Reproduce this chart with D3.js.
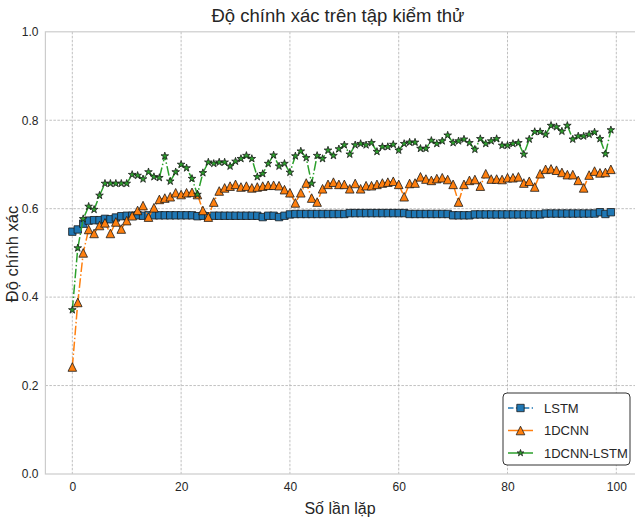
<!DOCTYPE html>
<html>
<head>
<meta charset="utf-8">
<script src="https://cdn.jsdelivr.net/npm/d3@7"></script>
<style>
  html, body { margin: 0; padding: 0; background: #fff; }
  svg { display: block; font-family: "Liberation Sans", Arial, sans-serif; }
</style>
</head>
<body>
<svg id="chart" width="635" height="519"></svg>
<script>
const epochs = d3.range(100);
const lstm = [
  0.548, 0.553, 0.566, 0.573, 0.574, 0.574, 0.577, 0.576, 0.580, 0.583,
  0.584, 0.584, 0.585, 0.584, 0.585, 0.585, 0.585, 0.585, 0.585, 0.585,
  0.585, 0.585, 0.585, 0.583, 0.584, 0.583, 0.584, 0.584, 0.584, 0.584,
  0.584, 0.584, 0.584, 0.584, 0.584, 0.581, 0.584, 0.584, 0.581, 0.584,
  0.587, 0.588, 0.588, 0.588, 0.588, 0.588, 0.588, 0.588, 0.588, 0.588,
  0.588, 0.590, 0.590, 0.590, 0.590, 0.590, 0.590, 0.590, 0.590, 0.590,
  0.590, 0.590, 0.588, 0.588, 0.588, 0.588, 0.588, 0.588, 0.588, 0.588,
  0.585, 0.585, 0.585, 0.585, 0.587, 0.587, 0.587, 0.587, 0.587, 0.587,
  0.587, 0.587, 0.587, 0.587, 0.587, 0.587, 0.587, 0.589, 0.589, 0.589,
  0.589, 0.589, 0.589, 0.589, 0.589, 0.589, 0.589, 0.592, 0.588, 0.592
];
const cnn = [
  0.242, 0.388, 0.500, 0.553, 0.544, 0.562, 0.568, 0.544, 0.570, 0.554,
  0.573, 0.584, 0.596, 0.607, 0.581, 0.602, 0.621, 0.624, 0.627, 0.636,
  0.632, 0.636, 0.637, 0.632, 0.596, 0.581, 0.615, 0.640, 0.647, 0.651,
  0.655, 0.649, 0.651, 0.647, 0.649, 0.651, 0.653, 0.653, 0.652, 0.643,
  0.636, 0.613, 0.636, 0.658, 0.624, 0.615, 0.645, 0.655, 0.660, 0.655,
  0.655, 0.645, 0.657, 0.645, 0.652, 0.652, 0.655, 0.658, 0.660, 0.662,
  0.655, 0.627, 0.657, 0.658, 0.672, 0.667, 0.664, 0.668, 0.670, 0.666,
  0.655, 0.615, 0.655, 0.664, 0.666, 0.651, 0.679, 0.667, 0.667, 0.666,
  0.670, 0.670, 0.672, 0.658, 0.662, 0.649, 0.679, 0.689, 0.690, 0.687,
  0.682, 0.677, 0.677, 0.664, 0.647, 0.676, 0.685, 0.681, 0.682, 0.689
];
const cnnLstm = [
  0.371, 0.511, 0.577, 0.605, 0.598, 0.630, 0.657, 0.657, 0.657, 0.657,
  0.657, 0.677, 0.675, 0.667, 0.683, 0.672, 0.670, 0.719, 0.662, 0.683,
  0.700, 0.692, 0.668, 0.632, 0.681, 0.705, 0.702, 0.705, 0.705, 0.696,
  0.707, 0.713, 0.720, 0.713, 0.672, 0.679, 0.702, 0.721, 0.696, 0.702,
  0.682, 0.719, 0.730, 0.715, 0.657, 0.720, 0.713, 0.732, 0.720, 0.735,
  0.744, 0.723, 0.744, 0.747, 0.744, 0.749, 0.729, 0.740, 0.740, 0.745,
  0.732, 0.747, 0.750, 0.750, 0.736, 0.736, 0.754, 0.747, 0.753, 0.766,
  0.749, 0.753, 0.757, 0.749, 0.734, 0.758, 0.747, 0.753, 0.758, 0.743,
  0.743, 0.747, 0.749, 0.723, 0.757, 0.774, 0.774, 0.768, 0.788, 0.785,
  0.775, 0.788, 0.757, 0.764, 0.764, 0.768, 0.773, 0.758, 0.724, 0.778
];
const seriesNames = ["LSTM", "1DCNN", "1DCNN-LSTM"];
const seriesColors = ["#1f77b4", "#ff7f0e", "#2ca02c"];
const xTicks = [0, 20, 40, 60, 80, 100];
const yTicks = [0.0, 0.2, 0.4, 0.6, 0.8, 1.0];
const titleText = "Độ chính xác trên tập kiểm thử";
const xLabel = "Số lần lặp";
const yLabel = "Độ chính xác";

(function () {
const svg = d3.select("#chart");
const pLeft = 45.4, pTop = 31.8, pBottom = 474, pRight = 637.8;
const x = d3.scaleLinear().domain([-4.95, 103.95]).range([pLeft, pRight]);
const y = d3.scaleLinear().domain([0, 1]).range([pBottom, pTop]);

// grid
const grid = svg.append("g");
grid.selectAll("line.gx").data(xTicks).join("line")
  .attr("x1", d => x(d)).attr("x2", d => x(d))
  .attr("y1", pTop).attr("y2", pBottom)
  .attr("stroke", "#b0b0b0").attr("stroke-width", 0.8).attr("stroke-dasharray", "2.5,1.5");
grid.selectAll("line.gy").data(yTicks.slice(1, -1)).join("line")
  .attr("x1", pLeft).attr("x2", pRight)
  .attr("y1", d => y(d)).attr("y2", d => y(d))
  .attr("stroke", "#b0b0b0").attr("stroke-width", 0.8).attr("stroke-dasharray", "2.5,1.5");

// spines
svg.append("rect").attr("x", pLeft).attr("y", pTop)
  .attr("width", pRight - pLeft).attr("height", pBottom - pTop)
  .attr("fill", "none").attr("stroke", "#cccccc").attr("stroke-width", 1.2);

// axes
const xAxis = d3.axisBottom(x).tickValues(xTicks).tickSize(0).tickPadding(8).tickFormat(d3.format("d"));
const yAxis = d3.axisLeft(y).tickValues(yTicks).tickSize(0).tickPadding(7).tickFormat(d3.format(".1f"));
const gx = svg.append("g").attr("transform", `translate(0,${pBottom})`).call(xAxis);
const gy = svg.append("g").attr("transform", `translate(${pLeft},0)`).call(yAxis);
[gx, gy].forEach(g => {
  g.select(".domain").remove();
  g.selectAll("text").attr("font-size", 12).attr("fill", "#262626")
    .attr("font-family", "'Liberation Sans', Arial, sans-serif");
});

// title & labels
svg.append("text").attr("x", 338).attr("y", 22).attr("text-anchor", "middle")
  .attr("font-size", 18.5).attr("fill", "#262626").text(titleText);
svg.append("text").attr("x", 340).attr("y", 514).attr("text-anchor", "middle")
  .attr("font-size", 16).attr("fill", "#262626").text(xLabel);
svg.append("text").attr("transform", "translate(18,254) rotate(-90)").attr("text-anchor", "middle")
  .attr("font-size", 16.5).attr("fill", "#262626").text(yLabel);

// markers
function squarePath(s) { return `M${-s},${-s}H${s}V${s}H${-s}Z`; }
function triPath(r) { return `M0,${-r}L${r},${r}L${-r},${r}Z`; }
const starPath = d3.symbol(d3.symbolStar, 18)();
const markerDefs = [
  { path: squarePath(3.7), dash: "5.5,2.4" },
  { path: triPath(4.3), dash: "9.6,2.4,1.5,2.4" },
  { path: starPath, dash: "9.6,2.4,1.5,2.4" }
];
const allSeries = [lstm, cnn, cnnLstm];
const line = d3.line().x((d, i) => x(epochs[i])).y(d => y(d));

const plot = svg.append("g");
allSeries.forEach((vals, k) => {
  const g = plot.append("g");
  g.append("path").datum(vals).attr("d", line)
    .attr("fill", "none").attr("stroke", seriesColors[k]).attr("stroke-width", 1.5)
    .attr("stroke-dasharray", markerDefs[k].dash);
  g.selectAll("path.m").data(vals).join("path").attr("class", "m")
    .attr("transform", (d, i) => `translate(${x(epochs[i])},${y(d)})`)
    .attr("d", markerDefs[k].path)
    .attr("fill", seriesColors[k]).attr("stroke", "#1a1a1a").attr("stroke-width", 0.8);
});

// legend
const lg = svg.append("g").attr("transform", "translate(503,393)");
lg.append("rect").attr("x", 0).attr("y", 0).attr("width", 127).attr("height", 72).attr("rx", 4)
  .attr("fill", "#fff").attr("stroke", "#333").attr("stroke-width", 1);
seriesNames.forEach((name, k) => {
  const yy = 15 + k * 22.5;
  lg.append("line").attr("x1", 5).attr("x2", 30).attr("y1", yy).attr("y2", yy)
    .attr("stroke", seriesColors[k]).attr("stroke-width", 1.5)
    .attr("stroke-dasharray", k === 0 ? "5.5,2.4" : null);
  lg.append("path").attr("transform", `translate(17.5,${yy})`)
    .attr("d", k === 2 ? d3.symbol(d3.symbolStar, 14)() : markerDefs[k].path)
    .attr("fill", seriesColors[k]).attr("stroke", "#1a1a1a").attr("stroke-width", 0.8);
  lg.append("text").attr("x", 41).attr("y", yy + 4.5).attr("font-size", 13)
    .attr("fill", "#262626").text(name);
});
})();
</script>
</body>
</html>
